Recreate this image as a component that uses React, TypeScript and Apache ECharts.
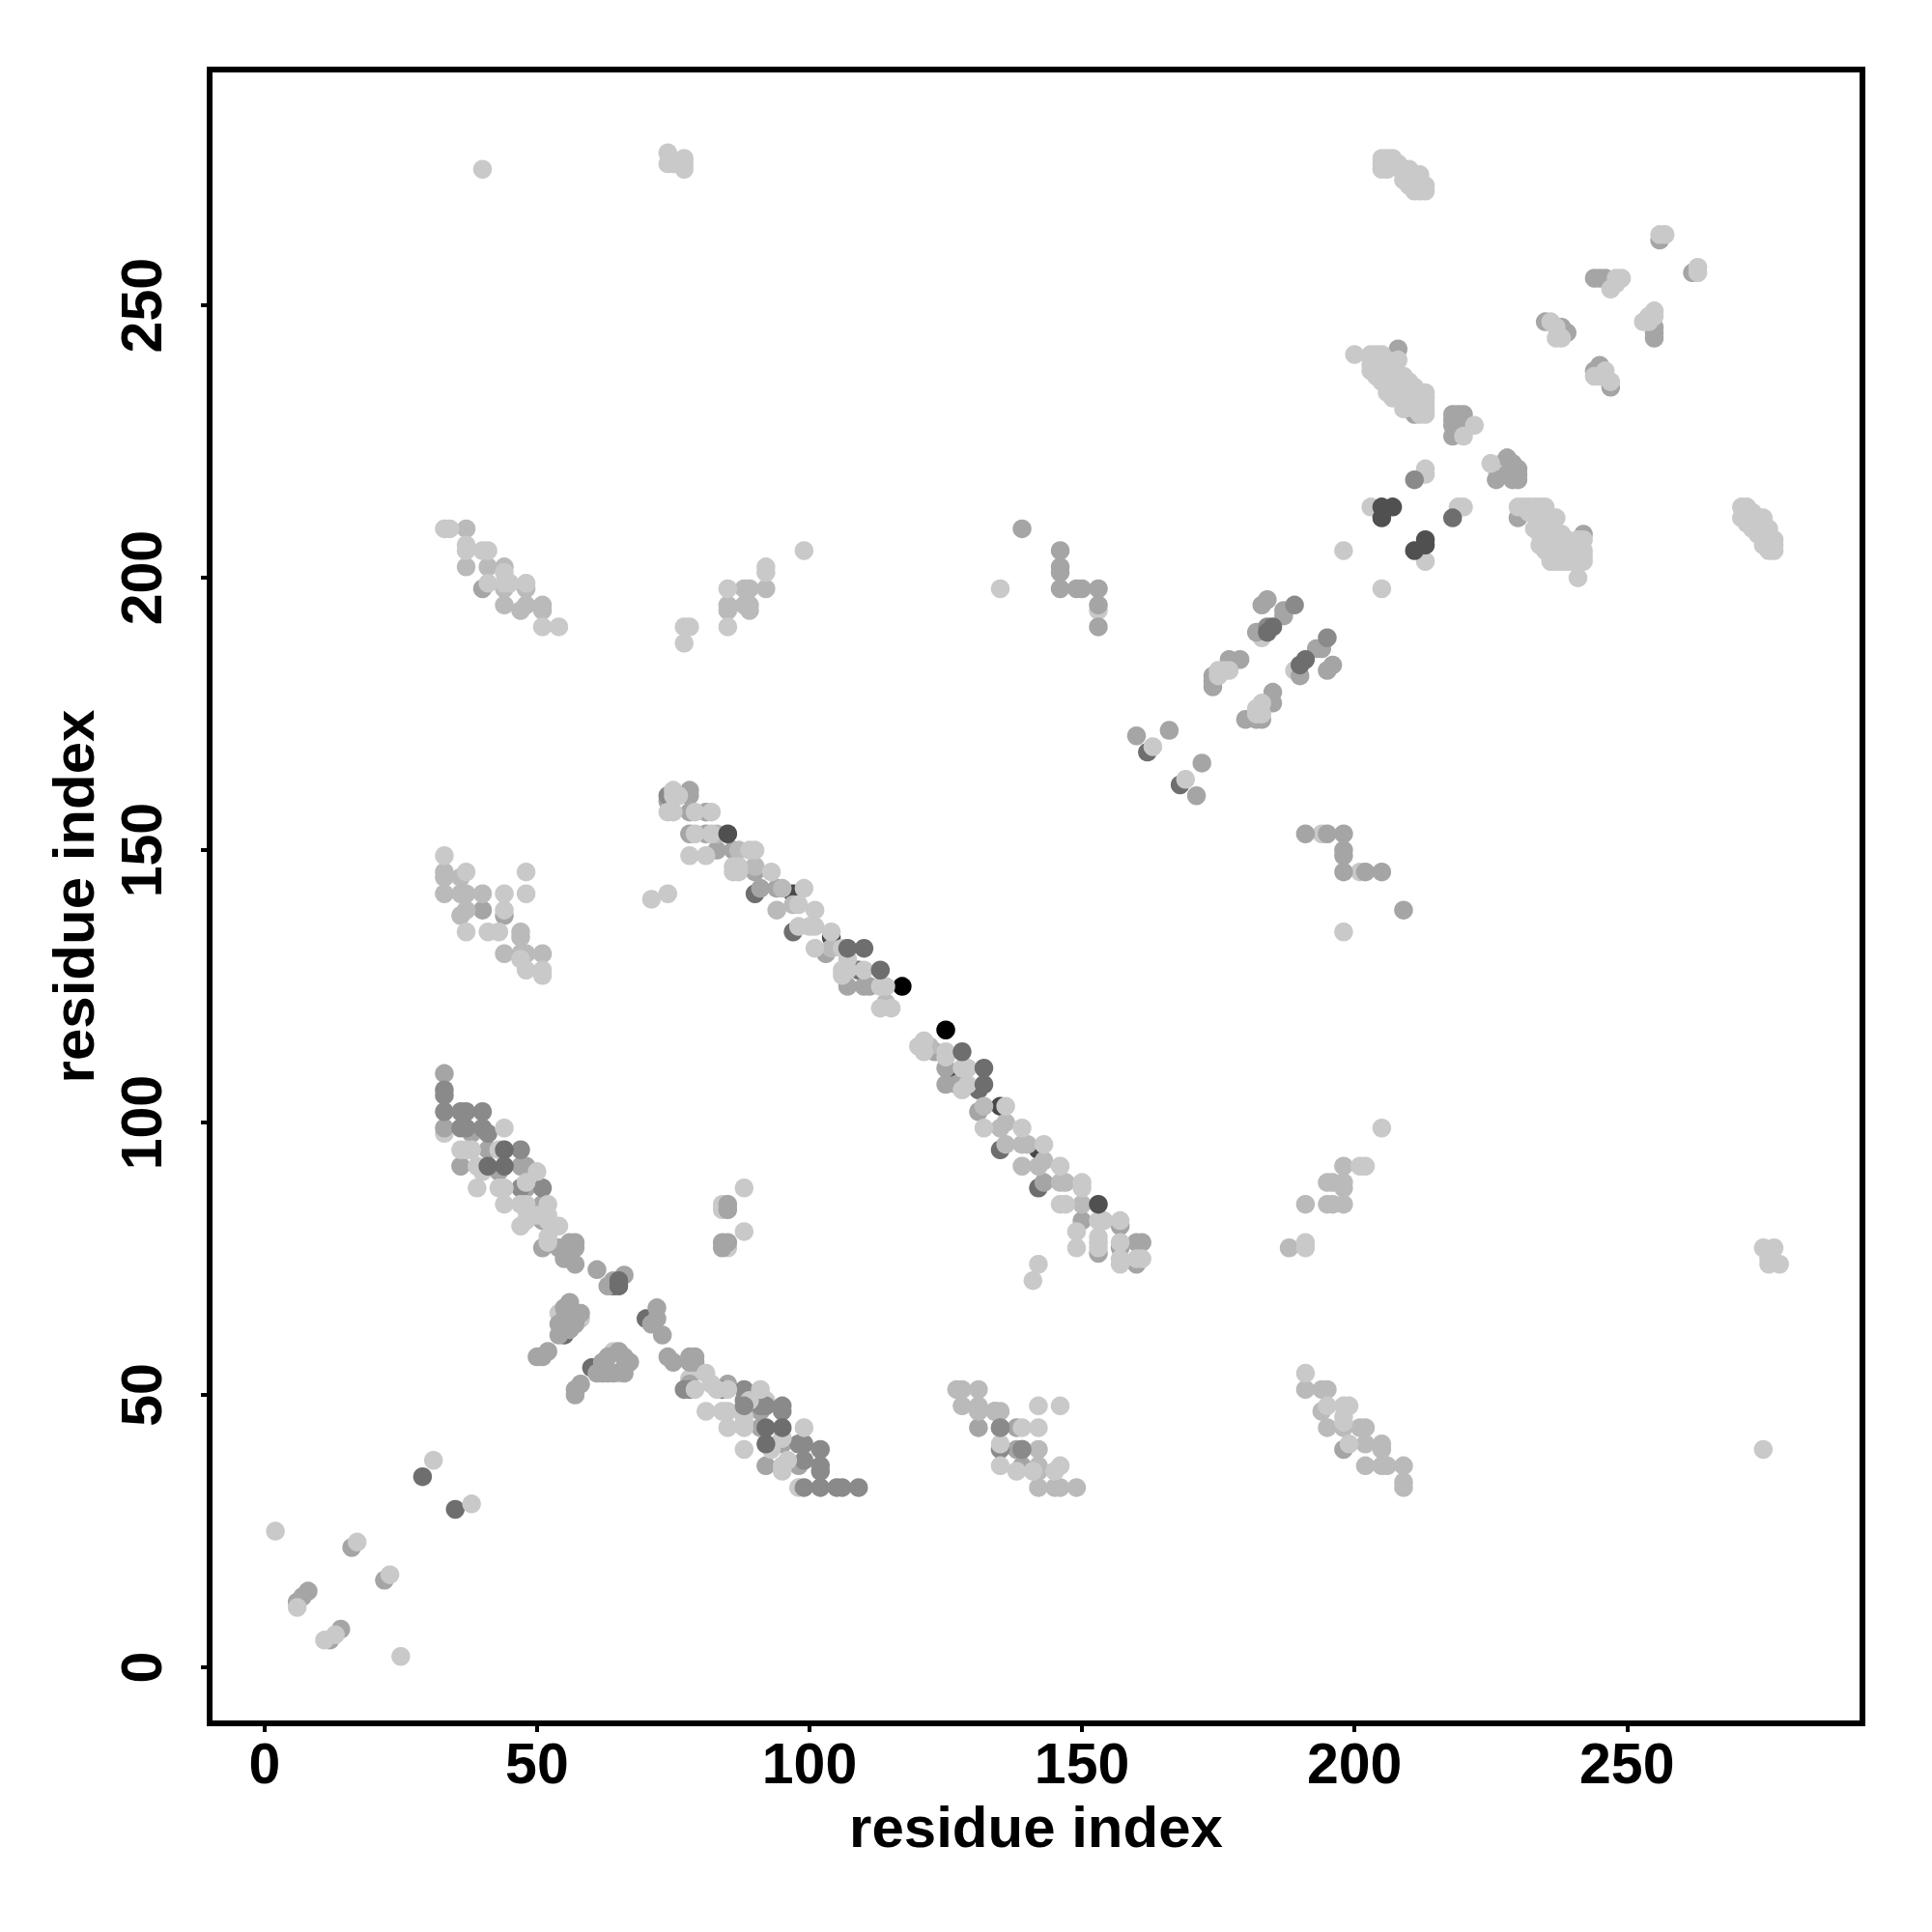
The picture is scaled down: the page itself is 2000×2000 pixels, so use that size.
import React, { useEffect, useRef } from "react";
import * as echarts from "echarts";

type P = [number, number];

const xTicks = [0, 50, 100, 150, 200, 250];
const yTicks = [0, 50, 100, 150, 200, 250];
const xTitle = "residue index";
const yTitle = "residue index";

// Drawn first: darker points that lighter ones partly cover
const blackPts: P[] = [[117, 125], [125, 117]];
const under45: P[] = [[97, 142], [104, 134], [135, 103], [142, 95], [127, 108]];
const under6e: P[] = [[29, 35], [35, 29], [90, 142], [97, 135], [109, 128], [135, 95], [142, 88], [131, 106], [55, 61], [60, 55], [64, 70], [70, 64], [162, 168], [168, 162]];
const underLight: P[] = [[84, 85], [84, 84], [85, 77], [33, 98], [58, 64], [54, 65], [65, 54], [64, 58], [78, 53], [92, 49], [95, 42], [201, 146], [194, 153], [189, 183], [183, 189], [98, 33], [153, 194], [200, 241], [227, 221], [226, 220], [228, 222]];

const gA5: P[] = [
  [6, 12], [7, 13], [8, 14], [12, 5], [14, 7], [16, 22], [22, 16],
  [33, 109], [33, 99], [38, 98], [36, 92], [41, 95], [43, 91], [47, 92], [48, 92], [48, 88], [51, 85], [51, 82], [51, 77], [54, 77],
  [56, 78], [57, 78], [56, 77], [57, 77], [56, 76], [55, 75], [57, 74], [85, 85], [85, 84], [84, 78], [85, 78], [84, 77],
  [61, 73], [64, 71], [63, 70], [66, 72], [56, 67], [55, 66], [58, 65], [54, 63], [54, 61], [56, 62], [57, 63], [55, 64], [56, 65],
  [50, 57], [51, 57], [52, 58], [57, 50], [57, 51], [58, 52], [61, 54], [62, 54], [63, 54], [64, 54], [62, 56], [63, 57], [65, 58], [66, 57], [67, 56], [66, 55], [66, 54],
  [72, 66], [72, 64], [71, 63], [73, 61], [74, 57], [75, 56], [78, 57], [79, 57], [78, 56], [79, 56], [78, 52], [85, 52],
  [91, 44], [95, 41], [91, 47], [92, 37], [98, 37], [74, 159], [78, 161], [78, 160], [78, 157], [81, 157], [78, 153], [81, 153],
  [83, 150], [86, 150], [90, 146], [90, 147], [94, 143], [91, 143], [103, 131], [107, 125], [110, 125], [111, 125], [125, 110], [125, 107], [123, 113], [127, 107],
  [131, 102], [143, 89], [150, 82], [157, 81], [157, 77], [160, 78], [161, 78], [160, 74], [153, 76],
  [131, 47], [131, 44], [138, 44], [138, 40], [139, 37], [134, 47],
  [40, 198], [40, 139], [44, 138],
  [139, 209], [146, 205], [146, 202], [146, 201], [146, 198], [149, 198], [150, 198], [153, 198], [153, 195], [153, 191],
  [184, 196], [183, 195], [187, 194], [187, 193], [182, 190], [194, 187], [193, 187], [190, 182], [196, 184], [195, 183],
  [174, 182], [174, 181], [174, 180], [177, 185], [179, 185], [185, 179], [185, 177], [180, 174], [183, 174], [182, 174],
  [160, 171], [166, 172], [172, 166], [171, 160],
  [191, 153], [195, 153], [198, 153], [198, 150], [198, 149], [198, 146], [202, 146], [205, 146], [209, 139],
  [256, 262], [262, 256], [244, 255], [245, 255], [246, 255], [235, 247], [238, 246], [239, 245], [255, 246], [255, 245], [255, 244], [245, 239], [244, 238], [247, 235],
  [208, 242], [211, 230], [218, 230], [219, 230], [220, 230], [218, 229], [218, 228], [219, 228], [220, 229], [221, 228], [218, 226],
  [229, 221], [228, 222], [226, 218], [230, 220], [230, 219], [229, 218], [230, 218], [229, 220], [228, 219], [230, 211], [242, 208],
  [198, 40],
];

const g8a: P[] = [
  [33, 106], [33, 105], [33, 102], [36, 102], [37, 102], [40, 102], [36, 99], [37, 99], [40, 99], [41, 98], [47, 95], [47, 88], [51, 88],
  [77, 51], [78, 51], [84, 51], [88, 51], [91, 48], [92, 48], [88, 49], [95, 48], [95, 47], [98, 41], [99, 41], [102, 40], [99, 38], [102, 37], [102, 36], [99, 33], [102, 33], [105, 33], [106, 33], [109, 33],
  [74, 160], [184, 191], [189, 195], [195, 189], [135, 40], [139, 40], [135, 44],
];

const gBB: P[] = [
  [83, 153], [87, 150], [90, 147], [95, 143], [94, 139], [97, 140], [104, 132], [114, 122], [122, 114], [132, 103], [136, 100], [135, 99], [136, 96], [139, 96], [140, 96], [139, 92], [143, 93], [142, 92], [147, 89], [146, 89], [150, 85], [142, 40], [142, 37], [142, 36], [131, 51], [131, 48], [128, 48], [127, 51], [128, 51], [134, 47], [135, 47], [131, 47], [145, 33], [146, 33], [142, 33], [149, 33],
  [33, 146], [33, 145], [33, 142], [36, 145], [36, 142], [37, 142], [40, 142], [36, 138], [37, 139], [44, 131], [47, 131], [48, 131], [51, 131], [47, 134], [47, 135],
  [37, 202], [41, 202], [44, 202], [44, 198], [44, 195], [47, 194], [48, 195], [51, 194], [51, 195], [37, 209], [48, 198], [85, 195], [85, 194], [88, 195], [89, 195], [89, 194], [92, 198], [88, 198], [89, 198],
  [191, 85], [195, 85], [196, 85], [198, 85], [198, 88], [198, 89], [195, 89], [196, 89], [198, 92], [188, 77], [191, 51], [194, 51], [195, 51], [194, 47], [195, 44], [198, 44], [201, 44], [202, 44], [202, 41], [202, 37], [205, 37], [206, 37], [205, 40], [205, 41], [209, 37], [209, 34], [209, 33],
];

const gCC: P[] = [
  [2, 25], [25, 2], [6, 11], [11, 5], [13, 6], [17, 23], [23, 17], [31, 38], [38, 30],
  [36, 95], [37, 95], [38, 95], [39, 92], [40, 91], [43, 95], [44, 99], [50, 91], [39, 88], [43, 88], [44, 88], [48, 89], [44, 85], [47, 85], [48, 85], [48, 84], [52, 85], [47, 81], [48, 82], [50, 83], [52, 82], [52, 83], [54, 81], [52, 79], [52, 78], [88, 88], [88, 80],
  [81, 54], [85, 51], [79, 51], [82, 52], [83, 51], [81, 47], [84, 47], [85, 47], [89, 49], [91, 51], [85, 44], [88, 44], [88, 45], [88, 46], [95, 42], [99, 44], [88, 40], [93, 40], [95, 37], [95, 36], [96, 38],
  [75, 161], [75, 160], [76, 160], [74, 157], [75, 157], [79, 157], [82, 157], [79, 153], [82, 153], [78, 149], [81, 149], [89, 150], [90, 150], [86, 146], [87, 146], [86, 147], [87, 147], [93, 146], [99, 143], [98, 140], [101, 139], [98, 136], [100, 136], [101, 136], [104, 135], [101, 132], [106, 132], [106, 128], [107, 128], [110, 128], [113, 125], [114, 125], [113, 121], [115, 121], [71, 141], [74, 142], [107, 130], [106, 127],
  [121, 115], [121, 113], [120, 114], [125, 113], [125, 112], [128, 110], [129, 110], [128, 106], [129, 107], [136, 103], [132, 99], [139, 99], [143, 96], [146, 92], [146, 85], [147, 85], [150, 89], [150, 88], [149, 80], [149, 77], [153, 82], [154, 82], [153, 79], [153, 78], [153, 77], [157, 82], [157, 78], [157, 75], [157, 74], [160, 75], [161, 75], [142, 74], [141, 71],
  [205, 99], [201, 92], [202, 92], [191, 78], [191, 77], [135, 41], [135, 37], [139, 44], [142, 44], [142, 48], [146, 48], [146, 37], [145, 36], [141, 36], [138, 36],
  [191, 54], [198, 48], [199, 48], [198, 45], [198, 46], [195, 48], [199, 41],
  [33, 149], [37, 146], [48, 146], [44, 142], [48, 142], [44, 139], [37, 135], [41, 135], [43, 135], [47, 130], [48, 128], [51, 128], [51, 127],
  [33, 209], [34, 209], [37, 206], [37, 205], [40, 205], [41, 205], [44, 201], [41, 199], [44, 199], [45, 199], [48, 199], [51, 191], [54, 191], [99, 205], [92, 202], [92, 201], [85, 198], [85, 191], [77, 191], [78, 191], [77, 188], [135, 198],
  [40, 275], [74, 278], [74, 276], [75, 276], [77, 277], [77, 276], [77, 275],
  [205, 198], [198, 135], [175, 183], [175, 182], [177, 183], [176, 183], [183, 177], [182, 176], [182, 175], [183, 175], [163, 169], [169, 163], [198, 205],
  [205, 277], [206, 277], [207, 277], [205, 276], [205, 275], [206, 275], [206, 276], [208, 276], [209, 275], [210, 275], [209, 274], [211, 274], [212, 274], [209, 273], [210, 272], [211, 272], [212, 272], [213, 272], [213, 271], [211, 271], [211, 273], [212, 271],
  [256, 263], [257, 263], [263, 257], [263, 256], [247, 253], [248, 255], [249, 255], [248, 254], [236, 247], [237, 244], [238, 244], [237, 246], [255, 249], [253, 247], [255, 248], [254, 247], [254, 248], [244, 237], [246, 238], [247, 236], [245, 237],
  [203, 241], [204, 241], [205, 241], [203, 240], [203, 239], [203, 238], [204, 240], [205, 239], [206, 237], [206, 236], [207, 238], [207, 235], [208, 240], [208, 237], [209, 237], [210, 236], [211, 235], [212, 234], [213, 234], [213, 233], [213, 232], [213, 231], [213, 230], [212, 232], [212, 230], [210, 233], [209, 233], [208, 234], [207, 233], [206, 234], [205, 236], [204, 237], [205, 238], [210, 232], [211, 232], [211, 231], [209, 231], [206, 240], [207, 239], [208, 235], [209, 235], [210, 234], [211, 233], [205, 237], [204, 239],
  [222, 228], [220, 226], [225, 221], [213, 220], [213, 219], [203, 213], [219, 213], [220, 213], [213, 203],
  [230, 213], [231, 213], [232, 213], [233, 213], [234, 213], [235, 213], [233, 212], [232, 212], [235, 211], [236, 211], [237, 211], [235, 210], [233, 209], [234, 208], [235, 209], [236, 209], [237, 208], [238, 208], [239, 207], [234, 206], [235, 205], [236, 204], [237, 205], [238, 205], [238, 204], [239, 206], [240, 205], [240, 204], [241, 207], [241, 205], [241, 204], [241, 203], [240, 203], [239, 203], [238, 203], [237, 203], [236, 203], [242, 207], [242, 205], [242, 204], [242, 203], [241, 200], [236, 207], [237, 207], [238, 207], [236, 206], [237, 206], [238, 206], [239, 205], [240, 206],
  [271, 213], [272, 213], [273, 212], [271, 211], [274, 211], [275, 211], [272, 210], [274, 210], [275, 210], [273, 209], [276, 209], [274, 208], [276, 208], [275, 207], [277, 207], [275, 206], [276, 206], [277, 206], [276, 205], [277, 205],
  [275, 77], [277, 77], [276, 75], [276, 74], [278, 74], [275, 40],
];

// Drawn last: dark points that sit fully on top of their neighbours
const top55: P[] = [[85, 153], [153, 85], [205, 213], [207, 213], [205, 211], [213, 207], [213, 206], [211, 205]];
const top6e: P[] = [[41, 92], [107, 132], [110, 132], [113, 128], [128, 113], [132, 110], [132, 107], [44, 95], [44, 92], [92, 41], [92, 44], [95, 44], [185, 191], [184, 190], [191, 185], [190, 184], [218, 211], [65, 71], [65, 70]];
const top8a: P[] = [[211, 218], [135, 44], [139, 40], [88, 48]];

const layers: [string, P[]][] = [
  ["#000000", blackPts],
  ["#484848", under45],
  ["#6e6e6e", under6e],
  ["#c9c9c9", underLight],
  ["#a5a5a5", gA5],
  ["#8a8a8a", g8a],
  ["#bababa", gBB],
  ["#c9c9c9", gCC],
  ["#8a8a8a", top8a],
  ["#6e6e6e", top6e],
  ["#505050", top55],
];

const labelFont = "'Liberation Sans', Arial, Helvetica, sans-serif";

export default function App() {
  const ref = useRef<HTMLDivElement>(null);
  useEffect(() => {
    document.body.style.margin = "0";
    const chart = echarts.init(ref.current!, null, { renderer: "svg" });
    const axisCommon = {
      type: "value" as const,
      nameLocation: "middle" as const,
      nameTextStyle: { fontFamily: labelFont, fontWeight: "bold" as const, fontSize: 60, color: "#000" },
      axisLine: { show: false, onZero: false },
      splitLine: { show: false },
      axisTick: { show: true, length: 9, lineStyle: { color: "#000", width: 4 } },
    };
    chart.setOption({
      animation: false,
      backgroundColor: "#fff",
      grid: { left: 217, top: 72, width: 1711, height: 1712, show: true, borderColor: "#000", borderWidth: 6, backgroundColor: "transparent", z: 10 },
      xAxis: {
        ...axisCommon,
        min: -10.07,
        max: 293.2,
        name: xTitle,
        nameGap: 77,
        axisTick: { ...axisCommon.axisTick, customValues: xTicks },
        axisLabel: { customValues: xTicks, showMinLabel: true, showMaxLabel: true, fontFamily: labelFont, fontWeight: "bold", fontSize: 59, color: "#000", margin: 12, hideOverlap: false },
      },
      yAxis: {
        ...axisCommon,
        min: -10.28,
        max: 293.3,
        name: yTitle,
        nameGap: 111,
        axisTick: { ...axisCommon.axisTick, customValues: yTicks },
        axisLabel: { customValues: yTicks, rotate: 90, fontFamily: labelFont, fontWeight: "bold", fontSize: 59, color: "#000", margin: 41, hideOverlap: false },
      },
      series: layers.map(([color, pts], i) => ({
        type: "scatter",
        data: pts,
        symbol: "circle",
        symbolSize: 19.5,
        itemStyle: { color, opacity: 1 },
        silent: true,
        z: 2 + i,
      })),
    });
    return () => chart.dispose();
  }, []);
  return <div ref={ref} style={{ width: 2000, height: 2000 }} />;
}
